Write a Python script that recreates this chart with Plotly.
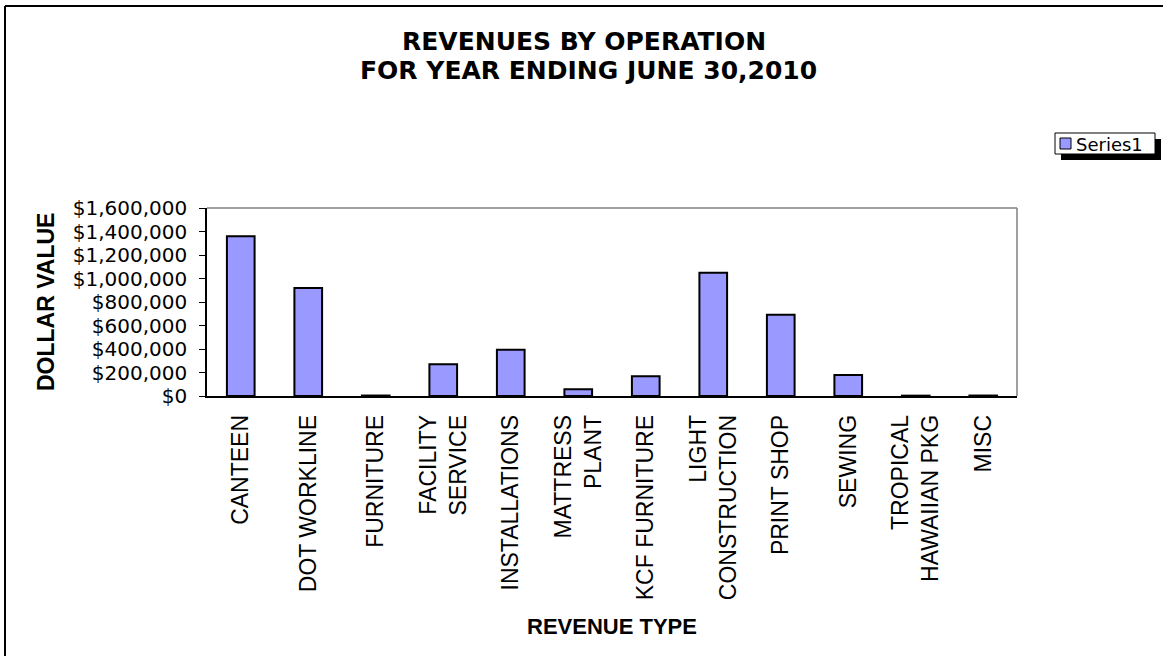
import plotly.graph_objects as go

categories = ["CANTEEN", "DOT WORKLINE", "FURNITURE", "FACILITY<br>SERVICE",
              "INSTALLATIONS", "MATTRESS<br>PLANT", "KCF FURNITURE",
              "LIGHT<br>CONSTRUCTION", "PRINT SHOP", "SEWING",
              "TROPICAL<br>HAWAIIAN PKG", "MISC"]
values = [1360000, 920000, 4000, 270000, 393000, 58000, 169000,
          1050000, 692000, 178000, 3000, 4000]
series_name = "Series1"
y_ticks = [0, 200000, 400000, 600000, 800000, 1000000, 1200000, 1400000, 1600000]
y_tick_labels = ["$0", "$200,000", "$400,000", "$600,000", "$800,000",
                 "$1,000,000", "$1,200,000", "$1,400,000", "$1,600,000"]

BAR_COLOR = "#9999FF"
W, H = 1163, 656
L, R, T, B = 207, 1017, 208, 396  # plot area box in page pixels

def px(x):
    return (x - L) / (R - L)

def py(y):
    return (B - y) / (B - T)

fig = go.Figure()
fig.add_trace(go.Bar(
    x=categories, y=values, name=series_name,
    marker=dict(color=BAR_COLOR, line=dict(color="black", width=2)),
    width=0.41, showlegend=False, hoverinfo="skip",
))

font = "Liberation Sans, Arial, sans-serif"
wide = "DejaVu Sans, Verdana, sans-serif"

def rect(x0, y0, x1, y1, **kw):
    d = dict(type="rect", xref="paper", yref="paper",
             x0=px(x0), x1=px(x1), y0=py(y1), y1=py(y0))
    d.update(kw)
    return d

def seg(x0, y0, x1, y1, **kw):
    d = dict(type="line", xref="paper", yref="paper",
             x0=px(x0), x1=px(x1), y0=py(y0), y1=py(y1))
    d.update(kw)
    return d

fig.update_layout(
    width=W, height=H,
    margin=dict(l=L, r=W - R, t=T, b=H - B, pad=0),
    paper_bgcolor="white", plot_bgcolor="white",
    font=dict(family=font, color="black"),
    showlegend=False,
    xaxis=dict(showline=True, linecolor="black", linewidth=1.5,
               ticks="", tickangle=-90, tickfont=dict(size=23, family=font),
               ticklabelstandoff=8, showgrid=False, zeroline=False),
    yaxis=dict(range=[0, 1600000], tickvals=y_ticks, ticktext=y_tick_labels,
               showline=True, linecolor="black", linewidth=1.5,
               ticks="outside", ticklen=6, tickcolor="black", tickwidth=1,
               tickfont=dict(size=20, family=wide), ticklabelstandoff=8,
               showgrid=False, zeroline=False),
    annotations=[
        dict(text="<b>REVENUES BY OPERATION</b>",
             xref="paper", yref="paper", x=px(584), y=py(42),
             xanchor="center", yanchor="middle", showarrow=False,
             font=dict(size=25, family=wide)),
        dict(text="<b>FOR YEAR ENDING JUNE 30,2010</b>",
             xref="paper", yref="paper", x=px(588), y=py(71),
             xanchor="center", yanchor="middle", showarrow=False,
             font=dict(size=25, family=wide)),
        dict(text="<b>DOLLAR VALUE</b>", xref="paper", yref="paper",
             x=px(46), y=py(302), xanchor="center", yanchor="middle",
             textangle=-90, showarrow=False, font=dict(size=23, family=font)),
        dict(text="<b>REVENUE TYPE</b>", xref="paper", yref="paper",
             x=px(612), y=py(626), xanchor="center", yanchor="middle",
             showarrow=False, font=dict(size=22, family=font)),
        # legend label
        dict(text=series_name, xref="paper", yref="paper",
             x=px(1074), y=py(144), xanchor="left", yanchor="middle",
             showarrow=False, font=dict(size=18, family=wide)),
    ],
    shapes=[
        # outer chart frame (left and top edges visible)
        seg(5, 6, 5, 700, line=dict(color="black", width=2)),
        seg(5, 6, 1200, 6, line=dict(color="black", width=2)),
        # plot area border (top and right, gray)
        dict(type="line", xref="paper", yref="paper", x0=0, x1=1, y0=1, y1=1,
             line=dict(color="#808080", width=1.5)),
        dict(type="line", xref="paper", yref="paper", x0=1, x1=1, y0=0, y1=1,
             line=dict(color="#808080", width=1.5)),
        # legend: shadow, box, key
        rect(1061, 139, 1161, 160, line=dict(width=0), fillcolor="black"),
        rect(1055, 133, 1155, 154, line=dict(color="black", width=1),
             fillcolor="white"),
        rect(1060, 138, 1071, 149, line=dict(color="black", width=1),
             fillcolor=BAR_COLOR),
    ],
)

fig.write_html(
    "out.html", config={"displayModeBar": False},
    post_script=("document.body.style.margin='0px';"
                 "document.body.style.overflow='hidden';"
                 "document.documentElement.style.overflow='hidden';"))
